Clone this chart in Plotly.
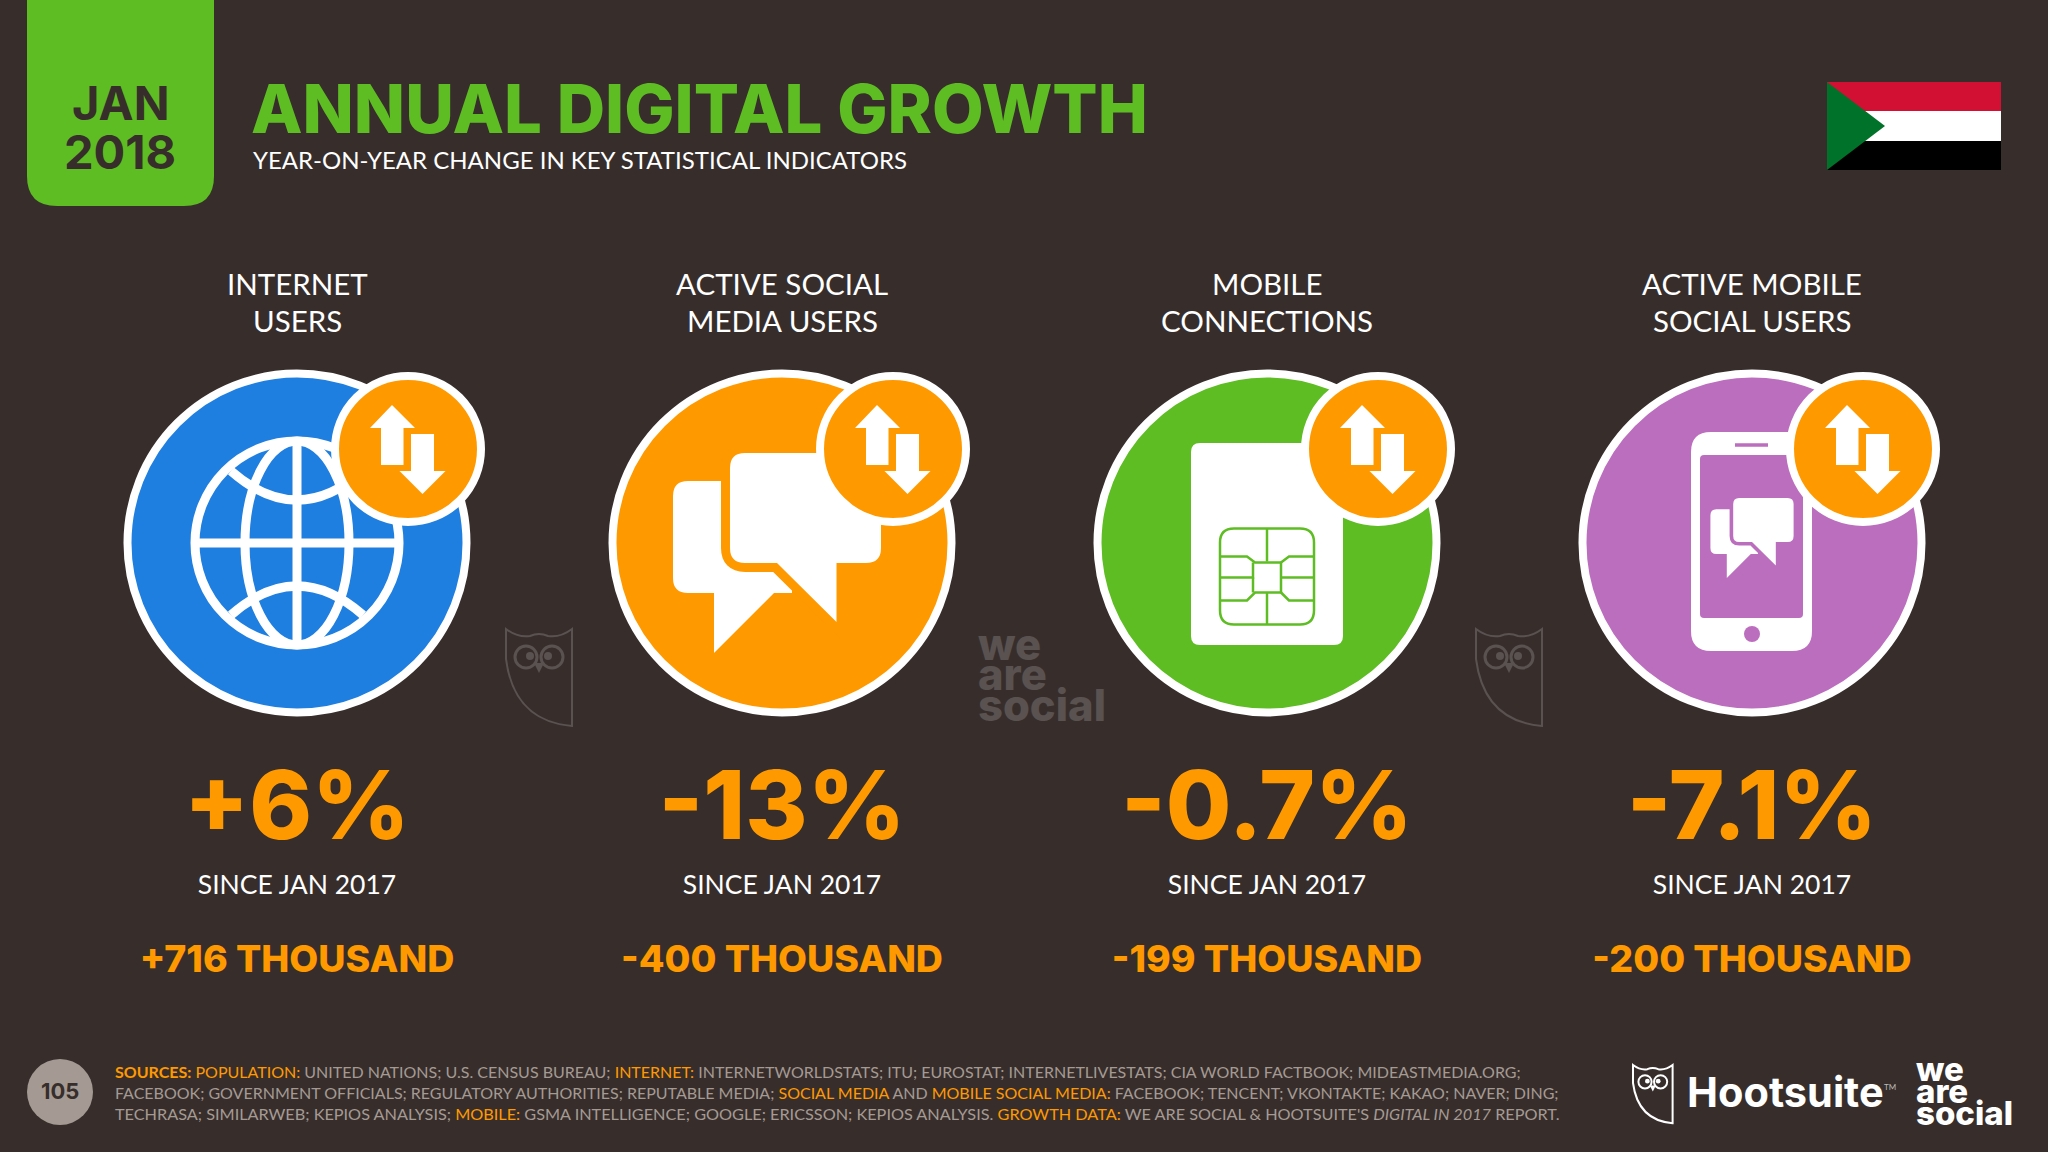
import plotly.graph_objects as go

# text content of the slide
indicator_names = [
    ["INTERNET", "USERS"],
    ["ACTIVE SOCIAL", "MEDIA USERS"],
    ["MOBILE", "CONNECTIONS"],
    ["ACTIVE MOBILE", "SOCIAL USERS"],
]
growth_labels = ["+6%", "-13%", "-0.7%", "-7.1%"]
since_labels = ["SINCE JAN 2017", "SINCE JAN 2017", "SINCE JAN 2017", "SINCE JAN 2017"]
change_labels = ["+716 THOUSAND", "-400 THOUSAND", "-199 THOUSAND", "-200 THOUSAND"]
indicator_colors = ["#1E7FE0", "#FF9900", "#5EBD23", "#BC6EBE"]

BG = "#372E2C"
GREEN = "#5EBD23"
ORANGE = "#FF9900"
WHITE = "#FFFFFF"
WATERMARK = "#5A5250"
SRC_GREY = "#A59A93"
BODY_FONT = "Lato"
HEAD_FONT = "Inter"

W, H = 2048, 1152
COL_X = [297 + 485 * i for i in range(4)]
ICON_Y = 543

source_lines = [
    f'<span style="color:{ORANGE}"><b>SOURCES:</b> POPULATION:</span> UNITED NATIONS; U.S. CENSUS BUREAU; '
    f'<span style="color:{ORANGE}">INTERNET:</span> INTERNETWORLDSTATS; ITU; EUROSTAT; INTERNETLIVESTATS; '
    'CIA WORLD FACTBOOK; MIDEASTMEDIA.ORG;',
    'FACEBOOK; GOVERNMENT OFFICIALS; REGULATORY AUTHORITIES; REPUTABLE MEDIA; '
    f'<span style="color:{ORANGE}">SOCIAL MEDIA</span> AND <span style="color:{ORANGE}">MOBILE SOCIAL MEDIA:</span> '
    'FACEBOOK; TENCENT; VKONTAKTE; KAKAO; NAVER; DING;',
    'TECHRASA; SIMILARWEB; KEPIOS ANALYSIS; '
    f'<span style="color:{ORANGE}">MOBILE:</span> GSMA INTELLIGENCE; GOOGLE; ERICSSON; KEPIOS ANALYSIS. '
    f'<span style="color:{ORANGE}">GROWTH DATA:</span> WE ARE SOCIAL &amp; HOOTSUITE\'S <i>DIGITAL IN 2017</i> REPORT.',
]

shapes = []
notes = []


def add_path(path, fill=None, line=None, width=0):
    shapes.append(dict(
        type="path", path=path, xref="x", yref="y",
        fillcolor=fill if fill else "rgba(0,0,0,0)",
        line=dict(color=line if line else "rgba(0,0,0,0)", width=width),
    ))


def add_circle(cx, cy, r, fill=None, line=None, width=0):
    shapes.append(dict(
        type="circle", xref="x", yref="y",
        x0=cx - r, x1=cx + r, y0=cy - r, y1=cy + r,
        fillcolor=fill if fill else "rgba(0,0,0,0)",
        line=dict(color=line if line else "rgba(0,0,0,0)", width=width),
    ))


def add_text(x, y, text, size, color=WHITE, font=BODY_FONT, weight=400, anchor="center"):
    notes.append(dict(
        x=x, y=y, xref="x", yref="y", text=text, showarrow=False,
        xanchor=anchor, yanchor="middle", align=anchor,
        font=dict(family=font, size=size, color=color, weight=weight),
    ))


def rrect(x0, y0, x1, y1, r):
    return (f"M{x0 + r},{y0} L{x1 - r},{y0} Q{x1},{y0} {x1},{y0 + r} L{x1},{y1 - r} "
            f"Q{x1},{y1} {x1 - r},{y1} L{x0 + r},{y1} Q{x0},{y1} {x0},{y1 - r} "
            f"L{x0},{y0 + r} Q{x0},{y0} {x0 + r},{y0} Z")


def poly(points):
    return "M" + " L".join(f"{x},{y}" for x, y in points) + " Z"


def add_badge(cx):
    bx, by = cx + 111, 449
    add_circle(bx, by, 73, fill=ORANGE, line=WHITE, width=8)
    up = [(-16, -44), (7, -21), (-4.5, -21), (-4.5, 16), (-27, 16), (-27, -21), (-38, -21)]
    down = [(14.5, 45), (37.5, 22), (26, 22), (26, -15), (3, -15), (3, 22), (-8.5, 22)]
    add_path(poly([(bx + x, by + y) for x, y in up]), fill=WHITE)
    add_path(poly([(bx + x, by + y) for x, y in down]), fill=WHITE)


def add_bubbles(cx, cy, s, color):
    def pt(x, y):
        return f"{cx + x * s},{cy + y * s}"
    back = (f"M{pt(-94, -62)} L{pt(10, -62)} L{pt(10, 50)} L{pt(-8, 50)} L{pt(-68, 110)} L{pt(-68, 50)} "
            f"L{pt(-94, 50)} Q{pt(-109, 50)} {pt(-109, 35)} L{pt(-109, -47)} Q{pt(-109, -62)} {pt(-94, -62)} Z")
    front = (f"M{pt(-37, -90)} L{pt(84, -90)} Q{pt(99, -90)} {pt(99, -75)} L{pt(99, 5)} Q{pt(99, 20)} {pt(84, 20)} "
             f"L{pt(54.5, 20)} L{pt(54.5, 79)} L{pt(-5, 20)} L{pt(-37, 20)} Q{pt(-52, 20)} {pt(-52, 5)} "
             f"L{pt(-52, -75)} Q{pt(-52, -90)} {pt(-37, -90)} Z")
    add_path(back, fill=WHITE)
    add_path(front, fill=color, line=color, width=18 * s)
    add_path(front, fill=WHITE)


def add_globe(cx, cy):
    lw = 9
    add_circle(cx, cy, 102, line=WHITE, width=lw)
    shapes.append(dict(type="circle", xref="x", yref="y", x0=cx - 52, x1=cx + 52, y0=cy - 102, y1=cy + 102,
                       fillcolor="rgba(0,0,0,0)", line=dict(color=WHITE, width=lw)))
    add_path(f"M{cx},{cy - 102} L{cx},{cy + 102}", line=WHITE, width=lw)
    add_path(f"M{cx - 102},{cy} L{cx + 102},{cy}", line=WHITE, width=lw)
    add_path(f"M{cx - 66},{cy - 72} Q{cx},{cy - 14} {cx + 66},{cy - 72}", line=WHITE, width=lw)
    add_path(f"M{cx - 66},{cy + 72} Q{cx},{cy + 14} {cx + 66},{cy + 72}", line=WHITE, width=lw)


def add_sim(cx, cy, color):
    add_path(rrect(cx - 76, cy - 100, cx + 76, cy + 102, 9), fill=WHITE)
    ox, oy = cx, cy + 33.5
    add_path(rrect(ox - 47, oy - 48, ox + 47, oy + 48, 14), line=color, width=2.5)
    segs = [
        [(0, -48), (0, -15)], [(0, 16), (0, 48)],
        [(-47, -20), (-20, -20), (-12, -14), (14, -14), (14, 16), (-12, 16), (-20, 24), (-47, 24)],
        [(47, -20), (22, -20), (14, -14)], [(47, 24), (22, 24), (14, 16)],
        [(-47, 1), (-14, 1), (-14, -14)], [(-14, 1), (-14, 16)], [(14, 1), (47, 1)],
    ]
    for seg in segs:
        add_path("M" + " L".join(f"{ox + x},{oy + y}" for x, y in seg), line=color, width=2.5)


def add_phone(cx, cy, color):
    add_path(rrect(cx - 61, cy - 111, cx + 60, cy + 108, 20), fill=WHITE)
    add_path(rrect(cx - 52, cy - 88, cx + 51, cy + 75, 4), fill=color)
    add_path(f"M{cx - 17},{cy - 98} L{cx + 16},{cy - 98}", line=color, width=3.5)
    add_circle(cx, cy + 91, 8, fill=color)
    add_bubbles(cx + 2, cy - 9, 0.4, color)


def add_owl(x, y, s, color, lw):
    def pt(a, b):
        return f"{x + a * s},{y + b * s}"
    add_path(f"M{pt(0, 0)} Q{pt(12, 9)} {pt(24, 7)} Q{pt(33, 3)} {pt(42, 7)} Q{pt(54, 9)} {pt(66, 0)} "
             f"L{pt(66, 97)} Q{pt(8, 92)} {pt(0, 30)} Z", line=color, width=lw)
    add_circle(x + 20 * s, y + 28 * s, 11 * s, line=color, width=max(lw, 3 * s))
    add_circle(x + 46 * s, y + 28 * s, 11 * s, line=color, width=max(lw, 3 * s))
    add_circle(x + 24 * s, y + 27 * s, 4 * s, fill=color)
    add_circle(x + 42 * s, y + 27 * s, 4 * s, fill=color)
    add_path(poly([(x + 28 * s, y + 34 * s), (x + 38 * s, y + 34 * s), (x + 33 * s, y + 44 * s)]), fill=color)


# header
add_path("M27,0 L214,0 L214,176 Q214,206 184,206 L57,206 Q27,206 27,176 Z", fill=GREEN)
add_text(120, 102, "JAN", 47, color=BG, font=HEAD_FONT, weight=700)
add_text(120, 151, "2018", 47, color=BG, font=HEAD_FONT, weight=700)
add_text(249, 108, "ANNUAL DIGITAL GROWTH", 67, color=GREEN, font=HEAD_FONT, weight=800, anchor="left")
add_text(251, 159, "YEAR-ON-YEAR CHANGE IN KEY STATISTICAL INDICATORS", 24, anchor="left")

# flag
add_path(poly([(1827, 82), (2001, 82), (2001, 111), (1827, 111)]), fill="#D21034")
add_path(poly([(1827, 111), (2001, 111), (2001, 141), (1827, 141)]), fill=WHITE)
add_path(poly([(1827, 141), (2001, 141), (2001, 170), (1827, 170)]), fill="#000000")
add_path(poly([(1827, 82), (1885, 126), (1827, 170)]), fill="#007229")

# columns
for i, cx in enumerate(COL_X):
    add_text(cx, 283, indicator_names[i][0], 29.5)
    add_text(cx, 320, indicator_names[i][1], 29.5)
    add_circle(cx, ICON_Y, 169.5, fill=indicator_colors[i], line=WHITE, width=8)

add_globe(COL_X[0], ICON_Y)
add_bubbles(COL_X[1], ICON_Y, 1, indicator_colors[1])
add_sim(COL_X[2], ICON_Y, indicator_colors[2])
add_phone(COL_X[3], ICON_Y, indicator_colors[3])
for cx in COL_X:
    add_badge(cx)

# watermarks
add_owl(506, 629, 1, WATERMARK, 2)
add_owl(1476, 629, 1, WATERMARK, 2)
for y, t in zip([644, 674, 705], ["we", "are", "social"]):
    add_text(976, y, t, 43.5, color=WATERMARK, font=HEAD_FONT, weight=800, anchor="left")

# footer
add_circle(60, 1092, 33, fill=SRC_GREY)
add_text(60, 1091, "105", 22, color=BG, font=HEAD_FONT, weight=700)
for y, line, size in zip([1071, 1092, 1113], source_lines, [16, 16, 16.25]):
    add_text(113, y, line, size, color=SRC_GREY, anchor="left")
add_owl(1633, 1065, 0.6, WHITE, 2)
add_text(1685, 1092, "Hootsuite", 41.5, font=HEAD_FONT, weight=700, anchor="left")
add_text(1882, 1087, "TM", 8, color="#BBBBBB", anchor="left")
for y, t in zip([1069, 1091, 1113], ["we", "are", "social"]):
    add_text(1914, y, t, 33, font=HEAD_FONT, weight=800, anchor="left")

fig = go.Figure()
fig.add_trace(go.Scatter(
    x=COL_X, y=[815] * 4, mode="text", text=growth_labels, hoverinfo="skip",
    textfont=dict(family=HEAD_FONT, size=95, color=ORANGE, weight=800),
))
fig.add_trace(go.Scatter(
    x=COL_X, y=[887] * 4, mode="text", text=since_labels, hoverinfo="skip",
    textfont=dict(family=BODY_FONT, size=26.5, color=WHITE),
))
fig.add_trace(go.Scatter(
    x=COL_X, y=[963] * 4, mode="text", text=change_labels, hoverinfo="skip",
    textfont=dict(family=HEAD_FONT, size=37.5, color=ORANGE, weight=800),
))

fig.update_layout(
    width=W, height=H, margin=dict(l=0, r=0, t=0, b=0),
    paper_bgcolor=BG, plot_bgcolor=BG, showlegend=False,
    xaxis=dict(range=[0, W], visible=False, fixedrange=True),
    yaxis=dict(range=[H, 0], visible=False, fixedrange=True),
    shapes=shapes, annotations=notes,
)

fig.write_html("out.html", config={"displayModeBar": False},
               post_script="document.body.style.margin='0';")
